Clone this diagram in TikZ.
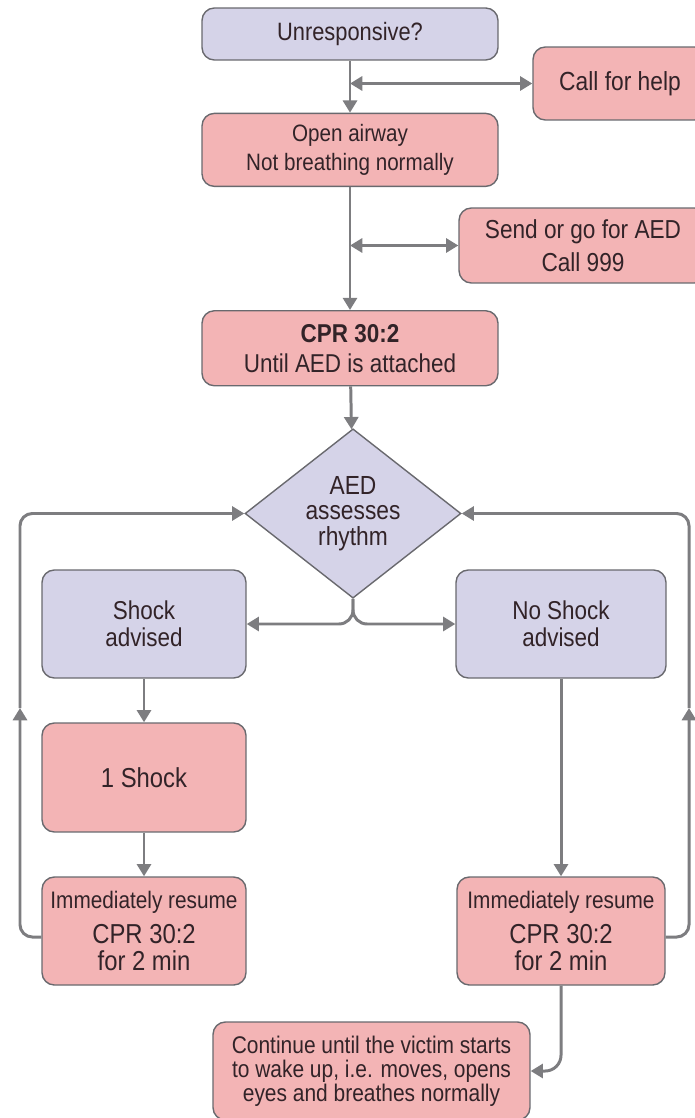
\documentclass[tikz,border=0pt]{standalone}
\usepackage{fontspec}
\setmainfont{Liberation Sans}[FakeStretch=0.87]
\usepackage{tikz}
\usetikzlibrary{positioning, shapes.geometric, arrows.meta}

\definecolor{pinkfill}{RGB}{243,180,181}
\definecolor{lilacfill}{RGB}{213,211,232}
\definecolor{boxline}{RGB}{105,105,110}
\definecolor{flowgray}{RGB}{125,125,128}
\definecolor{boxtext}{RGB}{50,35,40}
\newcommand\fs[2]{\fontsize{#1}{#2}\selectfont}

\begin{document}
\begin{tikzpicture}[x=0.02cm, y=-0.02cm,
  box/.style={draw=boxline, line width=0.8pt, rounded corners=7pt, align=center,
    text=boxtext, inner sep=1pt},
  pink box/.style={box, fill=pinkfill},
  lilac box/.style={box, fill=lilacfill},
  flow/.style={draw=flowgray, line width=1.7pt, -{Triangle[length=7pt,width=8pt]}},
  both/.style={flow, {Triangle[length=7pt,width=8pt]}-{Triangle[length=7pt,width=8pt]}}]

\useasboundingbox (0,0) rectangle (695,1118);

\node[lilac box, minimum width=5.92cm, minimum height=1.04cm, font=\fs{14.3}{17}] (unresp) at (350,34) {Unresponsive?};
\node[pink box, minimum width=3.48cm, minimum height=1.46cm, font=\fs{14.9}{17}] (help) at (620,83.5) {Call for help};
\node[pink box, minimum width=5.92cm, minimum height=1.46cm, font=\fs{13.5}{16.4}] (airway) [below=1.04cm of unresp] {Open airway\\Not breathing normally};
\node[pink box, minimum width=4.96cm, minimum height=1.5cm, font=\fs{14.8}{18.7}] (aed) at (583,245.5) {Send or go for AED\\Call 999};
\node[pink box, minimum width=5.92cm, minimum height=1.5cm, font=\fs{14.7}{17}] (cpr) [below=2.46cm of airway] {\textbf{CPR 30:2}\\Until AED is attached};
\node[lilac box, diamond, rounded corners=0pt, minimum width=4.32cm, minimum height=3.14cm, inner sep=0pt,
  font=\fs{14.9}{14.5}] (rhythm) at (353,513.5) {AED\\assesses\\rhythm};

\node[lilac box, minimum width=4.08cm, minimum height=2.16cm, font=\fs{14.7}{15.3}] (shock) at (144,624) {Shock\\advised};
\node[lilac box, minimum width=4.2cm, minimum height=2.16cm, font=\fs{14.7}{15.3}] (noshock) at (561,624) {No Shock\\advised};
\node[pink box, minimum width=4.08cm, minimum height=2.18cm, font=\fs{15.6}{16}] (oneshock) at (144,777.5) {1 Shock};
\node[pink box, minimum width=4.08cm, minimum height=2.16cm, font=\fs{15.6}{15.3}] (resumeL) at (144,931)
  {{\fs{13.6}{15}Immediately resume}\\[4.5pt]CPR 30:2\\for 2 min};
\node[pink box, minimum width=4.16cm, minimum height=2.16cm, font=\fs{15.6}{15.3}] (resumeR) at (561,931)
  {{\fs{13.6}{15}Immediately resume}\\[4.5pt]CPR 30:2\\for 2 min};
\node[pink box, minimum width=6.34cm, minimum height=1.96cm, font=\fs{13.7}{13.6}] (cont) at (371.5,1071)
  {Continue until the victim starts\\to wake up, i.e. moves, opens\\eyes and breathes normally};

\coordinate (upL) at (20,708);
\coordinate (upR) at (689,708);

\draw[flow] (unresp) -- (airway);
\draw[both] (help.west) -- (help.west -| unresp.south);
\draw[flow] (airway) -- (cpr);
\draw[both] (aed.west) -- (aed.west -| airway.south);
\draw[flow] (cpr) -- (rhythm);
\draw[flow, rounded corners=8pt] (rhythm.south) |- (shock.east);
\draw[flow, rounded corners=8pt] (rhythm.south) |- (noshock.west);
\draw[flow] (shock) -- (oneshock);
\draw[flow] (oneshock) -- (resumeL);
\draw[flow] (noshock) -- (resumeR);
\draw[flow, rounded corners=7pt] ([yshift=-0.12cm]resumeL.west) -| (upL);
\draw[flow, rounded corners=7pt] (upL) |- (rhythm.west);
\draw[flow, rounded corners=7pt] ([yshift=-0.12cm]resumeR.east) -| (upR);
\draw[flow, rounded corners=7pt] (upR) |- (rhythm.east);
\draw[flow, rounded corners=9pt] (resumeR.south) |- (cont.east);
\end{tikzpicture}
\end{document}
